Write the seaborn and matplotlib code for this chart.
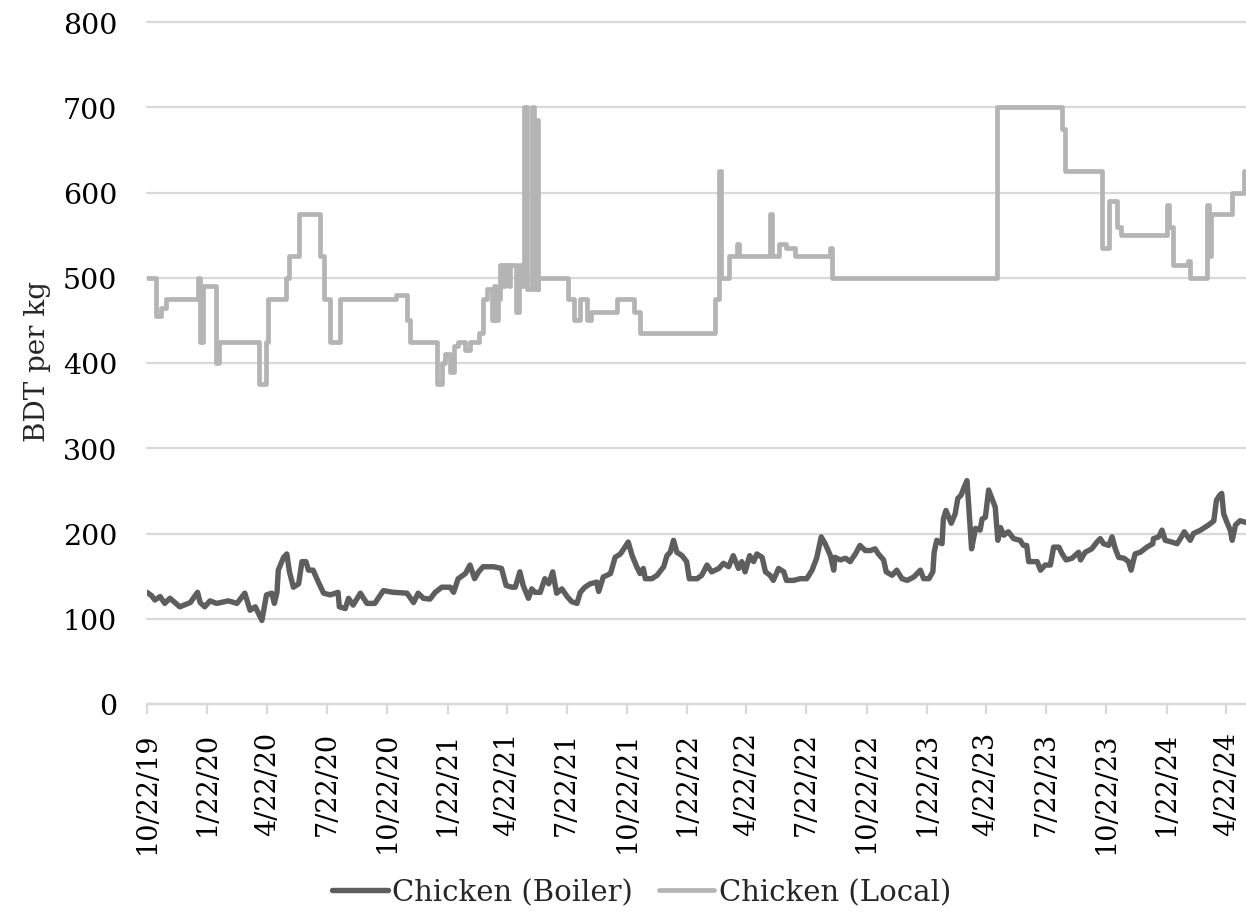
import pandas as pd
import matplotlib
matplotlib.use("Agg")
import matplotlib.pyplot as plt
import seaborn as sns

START = pd.Timestamp("2019-10-22")
END_DAY = 1674  # last day shown on the time axis, counted from START

# Chicken (Local): day (since START) on which the price changed, and the new price
local_days = [0, 14, 22, 29, 78, 81, 85, 105, 109, 171, 182, 185, 211, 216, 232,
              264, 269, 278, 294, 380, 396, 400, 441, 449, 454, 462, 467, 474,
              485, 492, 505, 512, 518, 525, 529, 532, 535, 538, 543, 545, 551,
              553, 562, 566, 570, 572, 575, 579, 587, 590, 594, 595, 596, 642,
              651, 660, 670, 676, 716, 742, 751, 865, 872, 875, 887, 899, 902,
              949, 952, 963, 973, 987, 1041, 1044, 1294, 1393, 1399, 1455, 1465,
              1478, 1484, 1553, 1557, 1563, 1586, 1589, 1594, 1614, 1617, 1620,
              1653, 1671, 1674]
local_price = [500, 455, 465, 475, 500, 425, 490, 400, 425, 375, 425, 475, 500, 525, 575,
               525, 475, 425, 475, 480, 450, 425, 375, 400, 410, 390, 420, 425,
               415, 425, 435, 475, 487, 450, 490, 450, 475, 515, 490, 515, 490,
               515, 460, 515, 490, 515, 700, 487, 700, 487, 685, 487, 500, 475,
               450, 475, 450, 460, 475, 460, 435, 475, 625, 500, 525, 540, 525,
               575, 525, 540, 535, 525, 535, 500, 700, 675, 625, 535, 590,
               560, 550, 585, 560, 515, 520, 500, 500, 585, 525, 575,
               600, 625, 625]

# Chicken (Boiler): observation day (since START) and price
boiler_days = [0, 7, 12, 20, 27, 35, 50, 66, 77, 81, 88, 96, 106, 124, 137, 149,
               157, 165, 170, 175, 182, 190, 194, 198, 200, 208, 213, 217, 223,
               231, 236, 242, 246, 253, 261, 269, 279, 291, 293, 302, 307, 314,
               325, 335, 347, 360, 375, 396, 406, 413, 421, 431, 439, 449, 462,
               467, 474, 485, 492, 499, 505, 512, 528, 540, 547, 556,
               561, 568, 573, 581, 586, 591, 599, 606, 612, 618, 624, 632, 640,
               647, 655, 660, 667, 675, 685, 688, 695, 706, 713, 721, 728, 733,
               739, 746, 751, 756, 759, 769, 777, 787, 792, 797, 802, 807, 815,
               822, 826, 838, 845, 853, 860, 871, 878, 886, 893, 901, 906, 911,
               918, 924, 929, 937, 942, 949, 954, 962, 970, 974, 985, 995, 1005,
               1013, 1020, 1027, 1033, 1041, 1046, 1048, 1056, 1064, 1071, 1079,
               1086, 1094, 1102, 1109,
               1114, 1122, 1126, 1135, 1142, 1150, 1158, 1168, 1178, 1183, 1191,
               1197, 1199, 1203, 1211, 1213, 1217, 1225, 1231, 1235, 1240, 1244,
               1249, 1251, 1256, 1262, 1269, 1272, 1277, 1282, 1287, 1292, 1296,
               1300, 1305, 1312, 1320, 1330, 1335, 1340, 1343, 1356, 1361, 1368,
               1376, 1381, 1389, 1394, 1400, 1409, 1419, 1422, 1429, 1439, 1447,
               1452, 1457, 1465, 1470, 1475, 1480, 1488, 1495, 1499, 1505, 1513,
               1523, 1532, 1533, 1541, 1546, 1551, 1561, 1569, 1574, 1580, 1589,
               1594, 1605, 1617, 1622, 1625, 1629, 1634, 1637, 1640, 1645, 1650,
               1653, 1658, 1665, 1674]
boiler_price = [131, 127, 122, 126, 118, 124, 114, 119, 131, 119, 114, 121, 118, 121, 118, 130,
                110, 114, 106, 98, 128, 130, 118, 131, 157, 172, 176, 155, 137,
                141, 167, 167, 157, 157, 143, 130, 128, 131, 114, 112, 124, 116,
                130, 118, 118, 133, 131, 130, 119, 130, 124, 123, 131, 137, 137,
                131, 147, 153, 163, 147, 155, 161, 161, 159, 139, 137,
                137, 155, 139, 124, 135, 131, 131, 147, 141, 155, 130, 135, 126,
                120, 118, 131, 137, 141, 143, 132, 149, 153, 172, 176, 184, 190,
                174, 161, 153, 159, 147, 147, 151, 161, 174, 178, 192, 178, 174,
                167, 147, 147, 151, 163, 155, 159, 165, 161, 174, 159, 167, 155,
                174, 167, 176, 172, 155, 151, 145, 159, 155, 145, 145, 147, 147,
                157, 171, 196, 188, 174, 157, 172, 169, 171, 167, 176,
                186, 180, 180, 182,
                176, 169, 155, 151, 157, 147, 145, 149, 157, 147, 147,
                155, 178, 192, 188, 217, 227, 212, 223, 241, 245, 253,
                262, 240, 182, 206, 204, 217, 219, 251, 241, 231, 192,
                207, 198, 202, 194, 192, 186, 186, 167, 167, 157, 163,
                163, 184, 184, 176, 169, 171, 178, 169, 178, 182, 190,
                194, 188, 186, 196, 182, 172, 171, 167, 157, 176, 178,
                184, 188, 194, 196, 204, 192, 190, 188, 194, 202, 192,
                200, 204, 210, 213, 215, 239, 245, 247, 223, 213, 204,
                192, 210, 215, 213]

tick_labels = ["10/22/19", "1/22/20", "4/22/20", "7/22/20", "10/22/20",
               "1/22/21", "4/22/21", "7/22/21", "10/22/21", "1/22/22",
               "4/22/22", "7/22/22", "10/22/22", "1/22/23", "4/22/23",
               "7/22/23", "10/22/23", "1/22/24", "4/22/24"]
y_ticks = [0, 100, 200, 300, 400, 500, 600, 700, 800]

BOILER_COLOR = "#5e5e5e"
LOCAL_COLOR = "#b4b4b4"
GRID_COLOR = "#d9d9d9"

boiler = pd.DataFrame({
    "date": START + pd.to_timedelta(boiler_days, unit="D"),
    "price": boiler_price,
})
local = pd.DataFrame({
    "date": START + pd.to_timedelta(local_days, unit="D"),
    "price": local_price,
})

sns.set_style("white")
plt.rcParams["font.family"] = ["DejaVu Serif"]

fig = plt.figure(figsize=(12.46, 9.2), dpi=100)
fig.subplots_adjust(left=147 / 1246, right=1.0, top=1 - 23 / 920, bottom=1 - 705 / 920)
ax = fig.add_subplot(111)

sns.lineplot(data=boiler, x="date", y="price", ax=ax, estimator=None,
             color=BOILER_COLOR, lw=3.9, solid_joinstyle="round",
             solid_capstyle="round", label="Chicken (Boiler)")
sns.lineplot(data=local, x="date", y="price", ax=ax, estimator=None,
             color=LOCAL_COLOR, lw=3.4, drawstyle="steps-post",
             solid_joinstyle="round", solid_capstyle="round",
             label="Chicken (Local)")

ax.set_xlim(START, START + pd.Timedelta(days=END_DAY))
ax.set_ylim(0, 800)
ax.set_yticks(y_ticks)
ax.set_yticklabels([str(v) for v in y_ticks])
tick_dates = pd.to_datetime(tick_labels, format="%m/%d/%y")
ax.set_xticks(tick_dates)
ax.set_xticklabels(tick_labels, rotation=90)

ax.set_xlabel("")
ax.set_ylabel("")

for side in ("top", "right", "left"):
    ax.spines[side].set_visible(False)
ax.spines["bottom"].set_color(GRID_COLOR)
ax.spines["bottom"].set_linewidth(1.6)

ax.grid(axis="y", color=GRID_COLOR, lw=1.6)
ax.grid(axis="x", visible=False)
ax.set_axisbelow(True)
for gl in ax.get_ygridlines():
    gl.set_clip_on(False)

ax.tick_params(axis="x", direction="out", length=7.5, width=1.6, color=GRID_COLOR,
               pad=12, labelsize=19.5, labelcolor="black", bottom=True)
ax.tick_params(axis="y", length=0, pad=21.5, labelsize=20.5, labelcolor="black")

fig.text(38 / 1246, 1 - 362 / 920, "BDT per kg", rotation=90, ha="center",
         va="center", fontsize=20)

ax.legend_.remove()
handles, labels = ax.get_legend_handles_labels()
fig.legend(handles, labels, loc="center", bbox_to_anchor=(0.515, 1 - 893 / 920),
           ncol=2, frameon=False, fontsize=21, handlelength=1.9,
           handletextpad=0.15, columnspacing=0.9)

fig.savefig("out.png", dpi=100)
